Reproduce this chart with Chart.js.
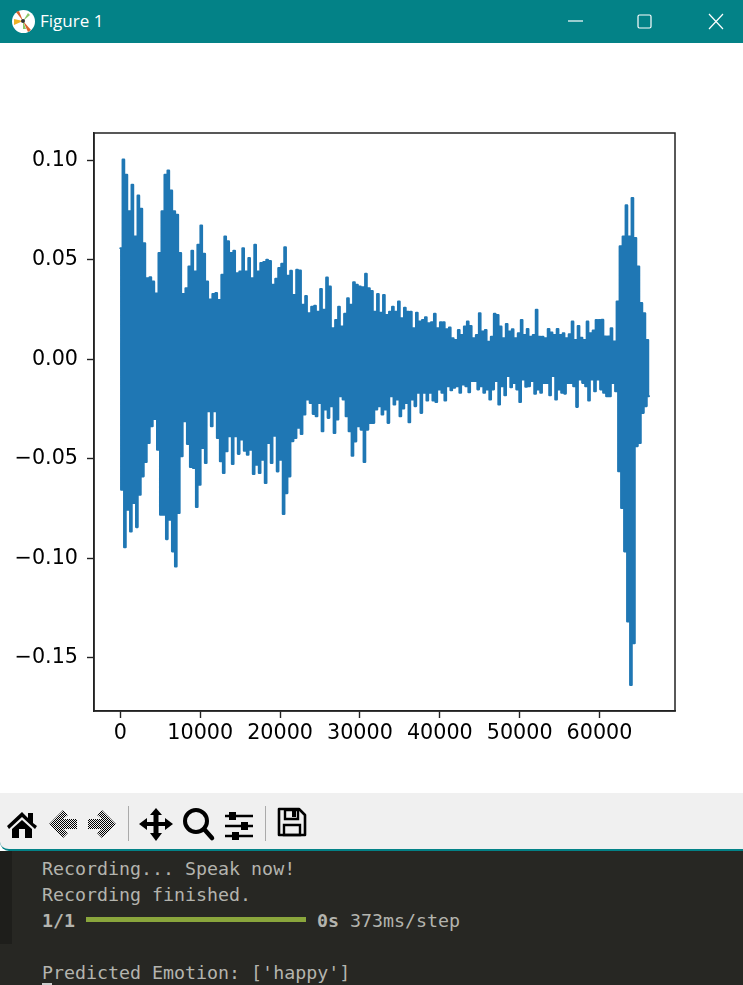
<!DOCTYPE html>
<html>
<head>
<meta charset="utf-8">
<title>Figure 1</title>
<script src="https://cdn.jsdelivr.net/npm/chart.js@4/dist/chart.umd.min.js"></script>
<style>
html, body { margin: 0; padding: 0; width: 743px; height: 985px; overflow: hidden; background: #fff; }
#titlebar { position: absolute; left: 0; top: 0; width: 743px; height: 43px; background: #038287; color: #fff; }
#titlebar .name { position: absolute; left: 40px; top: 11px; font: 17px/20px "Open Sans", "Noto Sans", sans-serif; }
#titlebar svg { position: absolute; }
#plot { position: absolute; left: 0; top: 43px; }
#toolbar { position: absolute; left: 0; top: 793px; width: 743px; height: 56px; background: #f0f0f0; border-bottom: 2px solid #038287; border-bottom-left-radius: 9px; z-index: 2; }
#toolbar svg { position: absolute; left: 0; top: 0; }
#terminal { position: absolute; left: 0; top: 851px; width: 743px; height: 134px; background: #272723; }
#terminal .gutter { position: absolute; left: 0; top: 0; width: 12px; height: 93px; background: #1e1e1b; }
#terminal .line { position: absolute; left: 42px; font: 18.3px/24px "DejaVu Sans Mono", monospace; color: #b4b4ae; white-space: pre; }
#terminal .bar { position: absolute; left: 86px; top: 66px; width: 220px; height: 5px; background: #8aa63c; }
#terminal .cursor { position: absolute; left: 42px; top: 132px; width: 10px; height: 2px; background: #ccc; }
b { font-weight: bold; }
</style>
</head>
<body>
<div id="titlebar">
  <svg style="left:11px;top:9px" width="25" height="25" viewBox="0 0 25 25">
    <circle cx="12.5" cy="12.5" r="11.5" fill="#fff"/>
    <path d="M12 12 L5 3 L8 2 Z" fill="#d9622b"/>
    <path d="M12 12 L20 21 L17 23 Z" fill="#d9622b"/>
    <path d="M12 12 L3 10 L3 16 Z" fill="#f0b323"/>
    <path d="M12 12 L17 4 L19 6 Z" fill="#8bc767"/>
    <path d="M12 12 L15 20 L12 20 Z" fill="#8bc767"/>
    <circle cx="12" cy="12" r="2" fill="#333"/>
  </svg>
  <div class="name">Figure 1</div>
  <svg style="left:560px;top:10px" width="170" height="24" viewBox="0 0 170 24" fill="none" stroke="#fff" stroke-width="1.2">
    <path d="M8 11 H23"/>
    <rect x="78" y="5" width="13" height="13" rx="1.5"/>
    <path d="M149 4 L163 19 M163 4 L149 19"/>
  </svg>
</div>

<canvas id="plot" width="743" height="750"></canvas>

<div id="toolbar">
  <svg width="320" height="56" viewBox="0 793 320 56">
    <defs>
      <pattern id="checker" width="2" height="2" patternUnits="userSpaceOnUse">
        <rect width="1" height="1" fill="#000"/><rect x="1" y="1" width="1" height="1" fill="#000"/>
      </pattern>
    </defs>
    <!-- home -->
    <path d="M7 826 L22 812 L28 818 V813 H33 V823 L37 826 L35 829 L22 817 L9 829 Z M12 829 L22 820 L32 829 V838 H25 V829 H19 V838 H12 Z" fill="#000"/>
    <!-- back / forward -->
    <path d="M49 824 L63 810 L68 815 L63 819 H77 V829 H63 L68 833 L63 838 Z" fill="url(#checker)"/>
    <path d="M116 824 L102 810 L97 815 L102 819 H88 V829 H102 L97 833 L102 838 Z" fill="url(#checker)"/>
    <rect x="128" y="806" width="1" height="35" fill="#aaa"/>
    <!-- pan -->
    <path d="M156 808 L162 815 H158.500 V822 H165 V818 L173 824 L165 830 V826 H158.500 V833 H162 L156 841 L150 833 H153.500 V826 H147 V830 L139 824 L147 818 V822 H153.500 V815 H150 Z" fill="#000"/>
    <!-- zoom -->
    <circle cx="196" cy="821" r="11" fill="none" stroke="#000" stroke-width="4"/>
    <path d="M204 829 L212 838" stroke="#000" stroke-width="4.500" stroke-linecap="round"/>
    <!-- configure -->
    <path d="M225 816 H253 M225 826 H253 M225 836 H253" stroke="#000" stroke-width="2.500"/>
    <rect x="229" y="812" width="7" height="8" fill="#000"/>
    <rect x="241" y="822" width="7" height="8" fill="#000"/>
    <rect x="232" y="832" width="7" height="8" fill="#000"/>
    <rect x="265" y="806" width="1" height="35" fill="#aaa"/>
    <!-- save -->
    <path d="M279 809 H299 L305 815 V835 H279 Z" fill="none" stroke="#000" stroke-width="2.600" stroke-linejoin="round"/>
    <path d="M285 810 H298 V819 H285 Z M284 825 H300 V835 H284 Z" fill="none" stroke="#000" stroke-width="2.400"/>
    <rect x="292" y="811" width="4" height="6" fill="#000"/>
  </svg>
</div>

<div id="terminal">
  <div class="gutter"></div>
  <div class="line" style="top:6px">Recording... Speak now!</div>
  <div class="line" style="top:32px">Recording finished.</div>
  <div class="line" style="top:58px"><b>1/1</b></div>
  <div class="bar"></div>
  <div class="line" style="left:317px;top:58px"><b>0s</b> 373ms/step</div>
  <div class="line" style="top:110px">Predicted Emotion: ['happy']</div>
  <div class="cursor"></div>
</div>

<script>
const upperPeaks = [
    0.0558, 0.1003, 0.0927, 0.0743, 0.0877, 0.0617, 0.0822, 0.0756, 0.0583, 0.0407,
    0.0412, 0.0390, 0.0330, 0.0533, 0.0743, 0.0927, 0.0948, 0.0847, 0.0743, 0.0726,
    0.0533, 0.0328, 0.0357, 0.0466, 0.0545, 0.0441, 0.0575, 0.0672, 0.0530, 0.0390,
    0.0300, 0.0328, 0.0332, 0.0298, 0.0424, 0.0617, 0.0592, 0.0533, 0.0545, 0.0432,
    0.0441, 0.0558, 0.0441, 0.0508, 0.0407, 0.0575, 0.0441, 0.0483, 0.0488, 0.0500,
    0.0494, 0.0374, 0.0404, 0.0458, 0.0479, 0.0563, 0.0419, 0.0444, 0.0323, 0.0449,
    0.0446, 0.0273, 0.0318, 0.0231,
    0.0264, 0.0269, 0.0239, 0.0353, 0.0248, 0.0410, 0.0365, 0.0155, 0.0197, 0.0264,
    0.0164, 0.0228, 0.0306, 0.0273, 0.0387, 0.0374, 0.0365, 0.0362, 0.0429, 0.0357,
    0.0343, 0.0239, 0.0327, 0.0234, 0.0323, 0.0222, 0.0239, 0.0264, 0.0239, 0.0290,
    0.0206, 0.0259, 0.0239, 0.0239, 0.0155, 0.0234, 0.0189, 0.0197, 0.0211, 0.0181,
    0.0186, 0.0228, 0.0155, 0.0186, 0.0186, 0.0150, 0.0159, 0.0105, 0.0097, 0.0147,
    0.0122, 0.0164, 0.0189, 0.0167, 0.0105, 0.0122, 0.0231, 0.0139, 0.0147, 0.0088,
    0.0113, 0.0228, 0.0222, 0.0164, 0.0105, 0.0177, 0.0139, 0.0150, 0.0105, 0.0130,
    0.0197, 0.0122, 0.0152, 0.0113, 0.0122, 0.0249, 0.0113, 0.0113, 0.0105, 0.0152,
    0.0134, 0.0122, 0.0152, 0.0122, 0.0130, 0.0105, 0.0125, 0.0189, 0.0097, 0.0167,
    0.0108, 0.0097, 0.0189, 0.0130, 0.0144, 0.0197, 0.0197,
    0.0198, 0.0114, 0.0114, 0.0156, 0.0089, 0.0290, 0.0567, 0.0617, 0.0773, 0.0617,
    0.0810, 0.0609, 0.0466, 0.0282, 0.0231, 0.0097
];
const lowerPeaks = [
    -0.0655, -0.0944, -0.0756, -0.0865, -0.0722, -0.0843, -0.0680, -0.0588, -0.0516, -0.0420,
    -0.0336, -0.0300, -0.0454, -0.0781, -0.0781, -0.0903, -0.0806, -0.0965, -0.1041, -0.0772,
    -0.0487, -0.0311, -0.0425, -0.0541, -0.0546, -0.0742, -0.0630, -0.0445, -0.0521, -0.0260,
    -0.0336, -0.0260, -0.0395, -0.0512, -0.0571, -0.0462, -0.0386, -0.0526, -0.0386, -0.0475,
    -0.0403, -0.0459, -0.0479, -0.0454, -0.0576, -0.0529, -0.0571, -0.0504, -0.0621, -0.0420,
    -0.0521, -0.0383, -0.0563, -0.0504, -0.0777, -0.0672, -0.0588, -0.0411, -0.0395, -0.0344,
    -0.0375, -0.0277, -0.0202, -0.0219,
    -0.0274, -0.0286, -0.0219, -0.0361, -0.0252, -0.0294, -0.0235, -0.0370, -0.0302, -0.0185,
    -0.0202, -0.0286, -0.0361, -0.0484, -0.0412, -0.0336, -0.0353, -0.0516, -0.0353, -0.0319,
    -0.0319, -0.0252, -0.0235, -0.0277, -0.0252, -0.0319, -0.0185, -0.0227, -0.0202, -0.0286,
    -0.0247, -0.0219, -0.0316, -0.0202, -0.0235, -0.0168, -0.0269, -0.0168, -0.0207, -0.0168,
    -0.0207, -0.0214, -0.0151, -0.0168, -0.0207, -0.0135, -0.0155, -0.0143, -0.0135, -0.0168,
    -0.0126, -0.0135, -0.0165, -0.0109, -0.0109, -0.0151, -0.0135, -0.0168, -0.0151, -0.0202,
    -0.0151, -0.0109, -0.0227, -0.0135, -0.0180, -0.0084, -0.0140, -0.0118, -0.0151, -0.0214,
    -0.0101, -0.0138, -0.0135, -0.0109, -0.0173, -0.0151, -0.0168, -0.0118, -0.0118, -0.0180,
    -0.0084, -0.0202, -0.0151, -0.0168, -0.0172, -0.0118, -0.0118, -0.0135, -0.0239, -0.0101,
    -0.0118, -0.0135, -0.0207, -0.0101, -0.0160, -0.0101, -0.0151,
    -0.0168, -0.0185, -0.0185, -0.0118, -0.0160, -0.0562, -0.0747, -0.0965, -0.1317, -0.1636,
    -0.1426, -0.0436, -0.0420, -0.0269, -0.0235, -0.0185
];
const xTicks = [0, 10000, 20000, 30000, 40000, 50000, 60000];
const yTicks = [-0.15, -0.10, -0.05, 0.00, 0.05, 0.10];
const samplesPerPoint = 187.5;

// The waveform swings between the two envelopes, one point each way
const waveform = [];
upperPeaks.forEach(function (peak, i) {
    waveform.push({ x: waveform.length * samplesPerPoint, y: peak });
    waveform.push({ x: waveform.length * samplesPerPoint, y: lowerPeaks[i] });
});

// Box round the axes, ticks stay on the left and bottom scales
const axesBox = {
    id: 'axesBox',
    afterDraw(chart) {
        const a = chart.chartArea;
        const ctx = chart.ctx;
        ctx.save();
        ctx.strokeStyle = '#222';
        ctx.lineWidth = 1.5;
        ctx.strokeRect(a.left, a.top, a.right - a.left, a.bottom - a.top);
        ctx.restore();
    }
};

const tickFont = { family: '"DejaVu Sans"', size: 20.7 };

new Chart(document.getElementById('plot'), {
    type: 'line',
    data: {
        datasets: [{
            data: waveform,
            borderColor: '#1f77b4',
            borderWidth: 2.2,
            borderJoinStyle: 'round',
            borderCapStyle: 'round',
            stepped: 'middle',
            pointRadius: 0,
            fill: false
        }]
    },
    options: {
        responsive: false,
        animation: false,
        layout: { padding: { left: 0, top: 90, right: 68, bottom: 0 } },
        plugins: { legend: { display: false }, tooltip: { enabled: false } },
        scales: {
            x: {
                type: 'linear',
                min: -3307,
                max: 69457,
                afterBuildTicks(scale) { scale.ticks = xTicks.map(function (v) { return { value: v }; }); },
                afterFit(scale) { scale.height = 82; },
                grid: { drawOnChartArea: false, color: '#222', tickLength: 7, tickWidth: 1.4 },
                border: { color: '#222', width: 1.5 },
                ticks: {
                    color: '#000',
                    font: tickFont,
                    maxRotation: 0,
                    padding: 3,
                    autoSkip: false,
                    callback(v) { return String(v); }
                }
            },
            y: {
                min: -0.1767,
                max: 0.1137,
                afterBuildTicks(scale) { scale.ticks = yTicks.map(function (v) { return { value: v }; }); },
                afterFit(scale) { scale.width = 94; },
                grid: { drawOnChartArea: false, color: '#222', tickLength: 7, tickWidth: 1.4 },
                border: { color: '#222', width: 1.5 },
                ticks: {
                    color: '#000',
                    font: tickFont,
                    padding: 9,
                    autoSkip: false,
                    callback(v) { return v.toFixed(2).replace('-', '\u2212'); }
                }
            }
        }
    },
    plugins: [axesBox]
});
</script>
</body>
</html>
